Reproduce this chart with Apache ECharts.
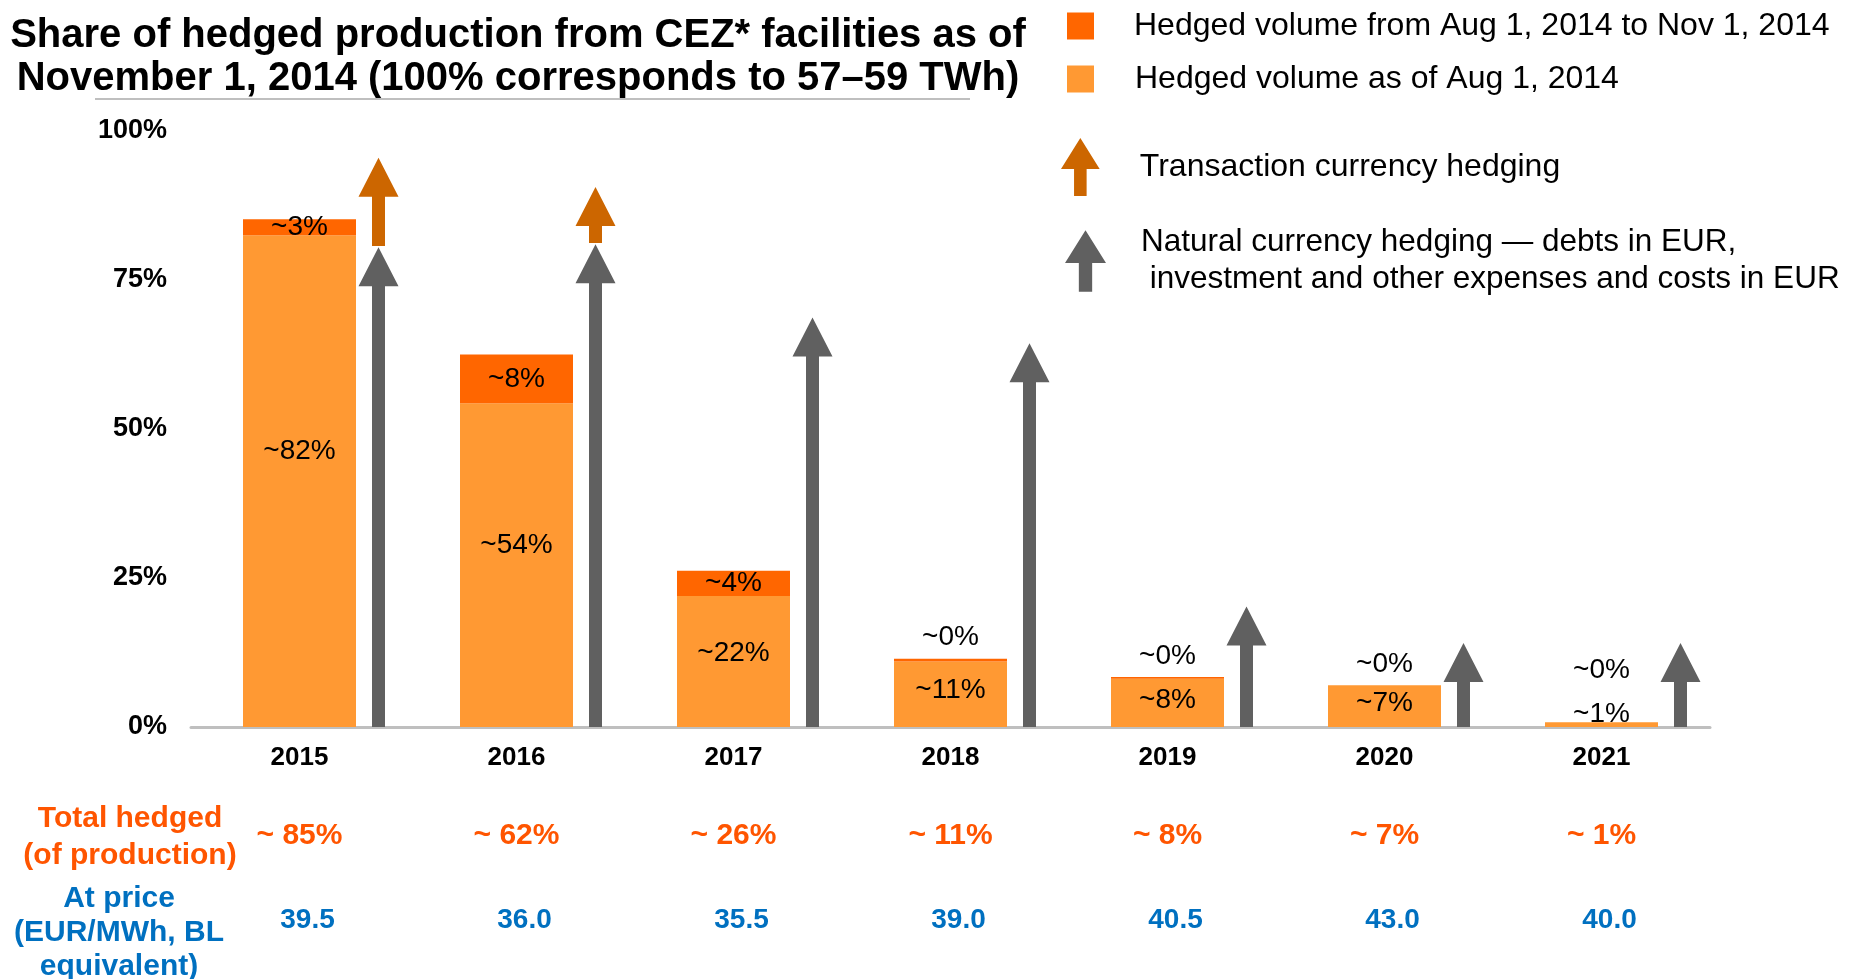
<!DOCTYPE html>
<html>
<head>
<meta charset="utf-8">
<script src="https://cdn.jsdelivr.net/npm/echarts@6/dist/echarts.min.js"></script>
<style>
  html, body { margin: 0; padding: 0; background: #fff; }
  #chart { width: 1849px; height: 979px; }
</style>
</head>
<body>
<div id="chart"></div>
<script>
// categories
const years = ['2015', '2016', '2017', '2018', '2019', '2020', '2021'];

// stacked bars (% of production)
const hedgedAsOfAug = [82.5, 54.3, 22, 11, 8.1, 7, 0.8];
const hedgedAugToNov = [2.7, 8.2, 4.2, 0.45, 0.3, 0, 0];
const asOfAugLabels = ['~82%', '~54%', '~22%', '~11%', '~8%', '~7%', '~1%'];
const augToNovLabels = ['~3%', '~8%', '~4%', '~0%', '~0%', '~0%', '~0%'];

// arrows (% levels)
const naturalTop = [80.5, 81, 68.7, 64.4, 20.2, 14.1, 14.1];
const transactionFrom = [80.7, 81.2];
const transactionTo = [95.5, 90.6];

// table rows under the axis
const totalHedged = ['~ 85%', '~ 62%', '~ 26%', '~ 11%', '~ 8%', '~ 7%', '~ 1%'];
const atPrice = [39.5, 36.0, 35.5, 39.0, 40.5, 43.0, 40.0];

const yTicks = [0, 25, 50, 75, 100];

const FONT = "'Liberation Sans', Arial, sans-serif";
const LIGHT = '#FF9933';
const DARK = '#FF6600';
const ARROW_ORANGE = '#CC6600';
const ARROW_GRAY = '#606060';
const TOTAL_COLOR = '#FF5500';
const PRICE_COLOR = '#0070C0';

const SERIES_AUG = 'Hedged volume as of Aug 1, 2014';
const SERIES_NOV = 'Hedged volume from Aug 1, 2014 to Nov 1, 2014';
const SERIES_TRANS = 'Transaction currency hedging';
const SERIES_NAT = 'Natural currency hedging \u2014 debts in EUR,\n investment and other expenses and costs in EUR';

const ARROW_ICON = 'path://M20,0 L40,32 L26.5,32 L26.5,60 L13.5,60 L13.5,32 L0,32 Z';

// arrow drawn to the right of each bar
function arrowItem(params, api) {
  const i = api.value(0);
  const from = api.coord([i, api.value(1)]);
  const to = api.coord([i, api.value(2)]);
  const x = from[0] + 79;
  const headH = 39, headW = 40, shaftW = 13;
  const hb = to[1] + headH;
  return {
    type: 'polygon',
    shape: {
      points: [
        [x, to[1]], [x + headW / 2, hb], [x + shaftW / 2, hb],
        [x + shaftW / 2, from[1]], [x - shaftW / 2, from[1]],
        [x - shaftW / 2, hb], [x - headW / 2, hb]
      ]
    },
    style: api.style()
  };
}

const chart = echarts.init(document.getElementById('chart'));

const labelFont = { fontFamily: FONT, fontSize: 28, color: '#000' };
const legendText = { fontFamily: FONT, fontSize: 32, color: '#000' };

const option = {
  animation: false,
  backgroundColor: '#fff',
  textStyle: { fontFamily: FONT },
  title: {
    text: 'Share of hedged production from CEZ* facilities as of\nNovember 1, 2014 (100% corresponds to 57\u201359 TWh)',
    left: 518,
    top: 14,
    textAlign: 'center',
    padding: 0,
    textStyle: { fontFamily: FONT, fontSize: 40, fontWeight: 'bold', lineHeight: 43, color: '#000' }
  },
  legend: [
    {
      data: [{ name: SERIES_NOV, icon: 'rect' }],
      left: 1067, top: 10, padding: 0,
      itemWidth: 27, itemHeight: 27, selectedMode: false,
      textStyle: { ...legendText, padding: [0, 0, 0, 35] }
    },
    {
      data: [{ name: SERIES_AUG, icon: 'rect' }],
      left: 1067, top: 63, padding: 0,
      itemWidth: 27, itemHeight: 27, selectedMode: false,
      textStyle: { ...legendText, padding: [0, 0, 0, 36] }
    },
    {
      data: [{ name: SERIES_TRANS, icon: ARROW_ICON }],
      left: 1061, top: 138, padding: 0,
      itemWidth: 41, itemHeight: 58, selectedMode: false,
      textStyle: { ...legendText, padding: [0, 0, 0, 34] }
    },
    {
      data: [{ name: SERIES_NAT, icon: ARROW_ICON }],
      left: 1065, top: 224, padding: 0,
      itemWidth: 41, itemHeight: 63, selectedMode: false,
      textStyle: { ...legendText, fontSize: 31.5, lineHeight: 37, padding: [0, 0, 0, 30] }
    }
  ],
  grid: { left: 191, right: 139, top: 131, bottom: 252, containLabel: false, outerBoundsMode: 'none' },
  xAxis: [
    {
      type: 'category', data: years, position: 'bottom',
      axisLine: { lineStyle: { color: '#BFBFBF', width: 3 } },
      axisTick: { show: false },
      axisLabel: { interval: 0, margin: 18, fontFamily: FONT, fontSize: 26, fontWeight: 'bold', color: '#000' }
    },
    {
      type: 'category', data: years, position: 'bottom', offset: 0,
      axisLine: { show: false }, axisTick: { show: false },
      axisLabel: {
        interval: 0, margin: 94,
        formatter: (v, i) => totalHedged[i],
        fontFamily: FONT, fontSize: 30, fontWeight: 'bold', color: TOTAL_COLOR
      }
    },
    {
      type: 'category', data: years, position: 'bottom', offset: 0,
      axisLine: { show: false }, axisTick: { show: false },
      axisLabel: {
        interval: 0, margin: 179,
        formatter: (v, i) => '{p|' + atPrice[i].toFixed(1) + '}',
        rich: { p: { fontFamily: FONT, fontSize: 28, fontWeight: 'bold', color: PRICE_COLOR, padding: [0, 0, 0, 16] } }
      }
    }
  ],
  yAxis: {
    type: 'value', min: yTicks[0], max: yTicks[yTicks.length - 1], interval: yTicks[1] - yTicks[0],
    axisLine: { show: false }, axisTick: { show: false }, splitLine: { show: false },
    axisLabel: { formatter: '{value}%', margin: 24, fontFamily: FONT, fontSize: 27, fontWeight: 'bold', color: '#000' }
  },
  series: [
    {
      name: SERIES_AUG, type: 'bar', stack: 'hedged', barWidth: 113,
      itemStyle: { color: LIGHT },
      data: hedgedAsOfAug.map((v, i) => ({
        value: v,
        label: v < 3
          ? { position: ['50%', -8] }
          : { position: ['50%', '44%'] }
      })),
      label: {
        show: true, align: 'center', verticalAlign: 'middle', ...labelFont,
        formatter: p => asOfAugLabels[p.dataIndex]
      }
    },
    {
      name: SERIES_NOV, type: 'bar', stack: 'hedged', barWidth: 113,
      itemStyle: { color: DARK },
      data: hedgedAugToNov.map((v, i) => ({
        value: v,
        label: v >= 1
          ? { position: 'inside' }
          : { position: 'top', distance: hedgedAsOfAug[i] < 3 ? 38 : 7 }
      })),
      label: {
        show: true, ...labelFont,
        formatter: p => augToNovLabels[p.dataIndex]
      }
    },
    {
      name: SERIES_NAT, type: 'custom', renderItem: arrowItem,
      itemStyle: { color: ARROW_GRAY },
      encode: { x: 0, y: [1, 2] },
      data: naturalTop.map((v, i) => [i, 0, v]),
      z: 3
    },
    {
      name: SERIES_TRANS, type: 'custom', renderItem: arrowItem,
      itemStyle: { color: ARROW_ORANGE },
      encode: { x: 0, y: [1, 2] },
      data: transactionTo.map((v, i) => [i, transactionFrom[i], v]),
      z: 3
    }
  ],
  graphic: [
    {
      type: 'line', silent: true,
      shape: { x1: 95, y1: 99, x2: 970, y2: 99 },
      style: { stroke: '#BFBFBF', lineWidth: 2 }
    },
    {
      type: 'text', x: 130, y: 837, silent: true,
      style: {
        text: 'Total hedged\n(of production)', align: 'center', verticalAlign: 'middle',
        fontFamily: FONT, fontSize: 30, fontWeight: 'bold', lineHeight: 37, fill: TOTAL_COLOR
      }
    },
    {
      type: 'text', x: 119, y: 933, silent: true,
      style: {
        text: 'At price\n(EUR/MWh, BL\nequivalent)', align: 'center', verticalAlign: 'middle',
        fontFamily: FONT, fontSize: 30, fontWeight: 'bold', lineHeight: 34, fill: PRICE_COLOR
      }
    }
  ]
};

chart.setOption(option);
</script>
</body>
</html>
